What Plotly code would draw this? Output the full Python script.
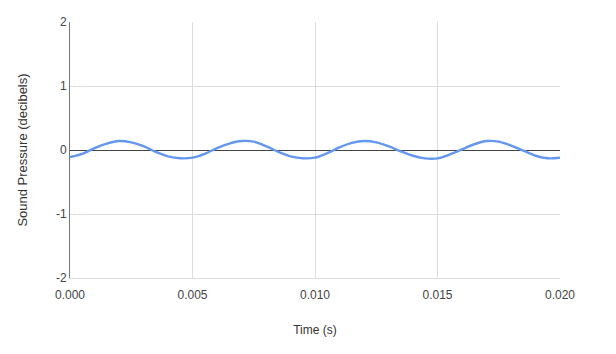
import plotly.graph_objects as go

time_s = [0.0, 0.0005, 0.001, 0.0015, 0.002, 0.0025, 0.003, 0.0035, 0.004, 0.0045,
          0.005, 0.0055, 0.006, 0.0065, 0.007, 0.0075, 0.008, 0.0085, 0.009, 0.0095,
          0.010, 0.0105, 0.011, 0.0115, 0.012, 0.0125, 0.013, 0.0135, 0.014, 0.0145,
          0.015, 0.0155, 0.016, 0.0165, 0.017, 0.0175, 0.018, 0.0185, 0.019, 0.0195, 0.020]
pressure = [-0.11, -0.06, 0.03, 0.10, 0.14, 0.12, 0.06, -0.03, -0.10, -0.13,
            -0.12, -0.06, 0.03, 0.10, 0.14, 0.13, 0.06, -0.03, -0.10, -0.13,
            -0.12, -0.05, 0.04, 0.11, 0.14, 0.12, 0.06, -0.02, -0.09, -0.13,
            -0.13, -0.07, 0.01, 0.09, 0.14, 0.13, 0.07, -0.01, -0.09, -0.13, -0.12]
x_ticks = [0.0, 0.005, 0.010, 0.015, 0.020]
x_labels = ["0.000", "0.005", "0.010", "0.015", "0.020"]
y_ticks = [-2, -1, 0, 1, 2]
y_labels = ["-2", "-1", "0", "1", "2"]

fig = go.Figure(go.Scatter(
    x=time_s, y=pressure, mode="lines",
    line=dict(color="#6497ef", width=2.4, shape="spline", smoothing=0.8),
    hoverinfo="x+y",
))

tick_font = dict(family="Liberation Sans, Arial, sans-serif", size=12, color="#444444")
xt_font = dict(family="Liberation Sans, Arial, sans-serif", size=12, color="#333333")
yt_font = dict(family="Liberation Sans, Arial, sans-serif", size=13, color="#333333")
fig.update_layout(
    width=616, height=354,
    margin=dict(l=70, r=56, t=22, b=76),
    paper_bgcolor="white", plot_bgcolor="white",
    showlegend=False, font=tick_font,
    xaxis=dict(range=[0, 0.020], tickvals=x_ticks, ticktext=x_labels,
               showgrid=True, gridcolor="#dddddd", gridwidth=1,
               zeroline=False, showline=True, linecolor="#dddddd",
               ticks="", tickfont=tick_font, ticklabelstandoff=6,
               title=dict(text="Time (s)", font=xt_font, standoff=24)),
    yaxis=dict(range=[-2, 2], tickvals=y_ticks, ticktext=y_labels,
               showgrid=True, gridcolor="#dddddd", gridwidth=1,
               zeroline=True, zerolinecolor="#444444", zerolinewidth=1,
               showline=True, linecolor="#777777", linewidth=1,
               ticks="", tickfont=tick_font,
               title=dict(text="Sound Pressure (decibels)", font=yt_font, standoff=25)),
)

fig.write_html("out.html")
